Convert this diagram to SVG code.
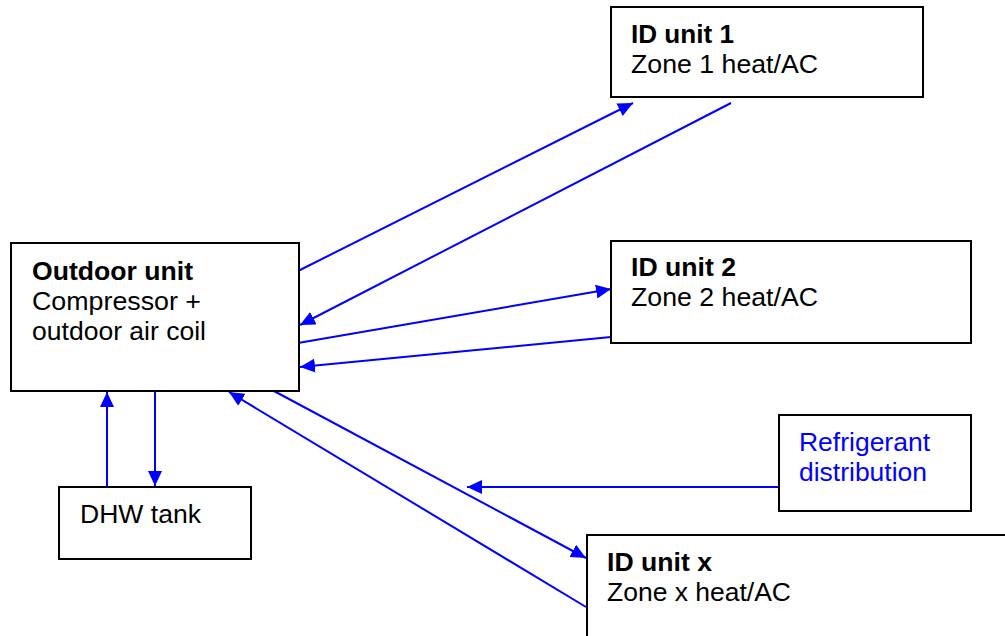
<svg xmlns="http://www.w3.org/2000/svg" width="1005" height="636" viewBox="0 0 1005 636">
<style>
.box{fill:#fff;stroke:#000;stroke-width:2}
.t{font-family:"Liberation Sans",Arial,sans-serif;font-size:26px;fill:#000}
.b{font-weight:bold}
.blue{fill:#0000ff}
.ca{stroke:#0000ff;stroke-width:2;fill:none;marker-end:url(#ah)}
</style>
<defs>
<marker id="ah" markerUnits="userSpaceOnUse" markerWidth="16" markerHeight="14" refX="15" refY="7" orient="auto">
<path d="M0,0 L15,7 L0,14 z" fill="#0000ff"/>
</marker>
</defs>
<rect width="1005" height="636" fill="#fff"/>
<g id="connectors">
<line class="ca" x1="298" y1="271" x2="633" y2="103"/>
<line class="ca" x1="731" y1="103" x2="300" y2="325"/>
<line class="ca" x1="298" y1="343" x2="611" y2="289"/>
<line class="ca" x1="611" y1="337" x2="300" y2="367"/>
<line class="ca" x1="274" y1="391" x2="586" y2="558"/>
<line class="ca" x1="586" y1="607" x2="229" y2="392"/>
<line class="ca" x1="107" y1="487" x2="107" y2="392"/>
<line class="ca" x1="155" y1="391" x2="155" y2="486"/>
<line class="ca" x1="779" y1="487" x2="467" y2="487"/>
</g>
<g id="id1">
<rect class="box" x="611" y="7" width="312" height="90"/>
<text class="t b" x="631" y="43" textLength="103" lengthAdjust="spacingAndGlyphs">ID unit 1</text>
<text class="t" x="631" y="73" textLength="187" lengthAdjust="spacingAndGlyphs">Zone 1 heat/AC</text>
</g>
<g id="id2">
<rect class="box" x="611" y="241" width="360" height="102"/>
<text class="t b" x="631" y="276" textLength="105" lengthAdjust="spacingAndGlyphs">ID unit 2</text>
<text class="t" x="631" y="306" textLength="187" lengthAdjust="spacingAndGlyphs">Zone 2 heat/AC</text>
</g>
<g id="outdoor">
<rect class="box" x="11" y="243" width="288" height="148"/>
<text class="t b" x="32" y="280" textLength="161" lengthAdjust="spacingAndGlyphs">Outdoor unit</text>
<text class="t" x="32" y="310" textLength="169" lengthAdjust="spacingAndGlyphs">Compressor +</text>
<text class="t" x="32" y="340" textLength="174" lengthAdjust="spacingAndGlyphs">outdoor air coil</text>
</g>
<g id="dhw">
<rect class="box" x="59" y="487" width="192" height="72"/>
<text class="t" x="80" y="523" textLength="121" lengthAdjust="spacingAndGlyphs">DHW tank</text>
</g>
<g id="refrigerant">
<rect class="box" x="779" y="415" width="192" height="96"/>
<text class="t blue" x="799" y="451" textLength="131" lengthAdjust="spacingAndGlyphs">Refrigerant</text>
<text class="t blue" x="799" y="481" textLength="128" lengthAdjust="spacingAndGlyphs">distribution</text>
</g>
<g id="idx">
<rect class="box" x="587" y="535" width="430" height="110"/>
<text class="t b" x="607" y="571" textLength="105" lengthAdjust="spacingAndGlyphs">ID unit x</text>
<text class="t" x="607" y="601" textLength="184" lengthAdjust="spacingAndGlyphs">Zone x heat/AC</text>
</g>
</svg>
